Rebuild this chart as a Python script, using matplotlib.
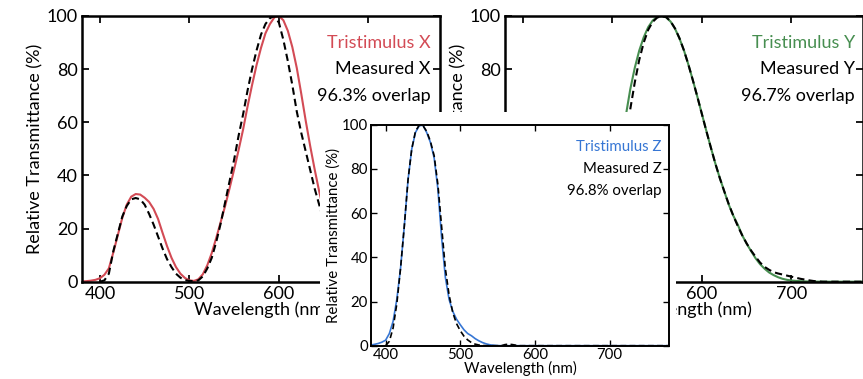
import matplotlib
matplotlib.use('Agg')
import matplotlib.pyplot as plt
from matplotlib.patches import Rectangle

plt.rcParams['font.family'] = ['Lato', 'DejaVu Sans']

nan = float('nan')

# wavelength grid (nm), 5 nm steps from 380 to 780
wl = list(range(380, 785, 5))

tri_x = [0.1, 0.2, 0.4, 0.7, 1.3, 2.6, 5.0, 11.0, 17.5, 24.0, 29.0, 32.0,
         33.0, 32.8, 31.6, 30.0, 27.4, 23.6, 18.4, 13.4, 9.0, 5.5, 3.0, 1.4,
         0.5, 0.3, 0.9, 2.8, 6.2, 10.8, 16.5, 22.5, 28.6, 35.3, 42.3, 49.6,
         57.3, 66.0, 74.0, 81.5, 88.0, 93.5, 97.0, 99.5, 100.0, 98.4, 94.4, 88.3,
         80.4, 70.7, 60.5, 51.0, 42.2, 34.0, 26.7, 20.6, 15.5, 11.4, 8.2, 6.0,
         4.4, 3.1, 2.1, 1.5, 1.1, 0.8, 0.5, 0.4, 0.3, 0.2, 0.1, 0.1,
         0.1, 0, 0, 0, 0, 0, 0, 0, 0]
meas_x = [nan, nan, nan, nan, 0, 0.5, 3.0, 11.5, 18.0, 24.5, 28.5, 31.0,
          31.5, 31.0, 29.0, 25.5, 21.5, 17.0, 12.5, 8.5, 5.5, 3.0, 1.5, 0.6,
          0.3, 0.2, 0.5, 2.0, 5.0, 9.0, 15.0, 22.0, 30.0, 38.0, 46.0, 55.0,
          63.0, 72.0, 80.0, 87.0, 93.0, 97.0, 99.2, 100.0, 97.5, 91.0, 83.0, 74.0,
          64.0, 56.0, 49.0, 42.0, 35.0, 29.0, 23.0, 18.0, 13.0, 9.0, 6.0, 4.0,
          2.5, 1.5, 0.8, 0.4, 0.2, 0.1, 0, 0, 0, 0, 0, 0,
          0, 0, 0, 0, 0, 0, 0, 0, 0]

tri_y = [0, 0, 0, 0, 0, 0.1, 0.1, 0.2, 0.4, 0.7, 1.2, 1.7,
         2.3, 3.0, 3.8, 4.8, 6.0, 7.4, 9.1, 11.3, 13.9, 16.9, 20.8, 25.9,
         32.3, 40.7, 50.5, 62.5, 72.5, 80.5, 87.0, 92.0, 95.8, 98.3, 99.6, 100.0,
         99.5, 97.9, 95.2, 91.5, 87.0, 81.6, 75.7, 69.5, 63.1, 56.7, 50.5, 44.5,
         39.0, 34.0, 29.0, 24.9, 21.5, 17.5, 14.3, 11.5, 8.8, 6.6, 4.9, 3.5,
         2.5, 1.7, 1.1, 0.7, 0.45, 0.3, 0.2, 0.12, 0.08, 0.05, 0.03, 0.02,
         0.01, 0, 0, 0, 0, 0, 0, 0, 0]
meas_y = [nan, nan, nan, nan, 0, 0.1, 0.1, 0.2, 0.3, 0.5, 0.8, 1.2,
          1.7, 2.3, 3.0, 3.8, 4.8, 6.0, 7.4, 9.1, 11.2, 13.7, 16.8, 20.8,
          26.0, 33.0, 41.5, 52.0, 65.0, 75.0, 83.5, 90.0, 94.8, 97.8, 99.4, 100.0,
          99.6, 98.0, 95.3, 91.6, 87.0, 81.6, 75.7, 69.5, 63.1, 56.7, 50.5, 44.5,
          39.0, 34.0, 29.2, 24.9, 21.0, 17.5, 14.4, 11.7, 9.4, 7.2, 5.6, 4.5,
          3.6, 3.1, 2.7, 2.3, 1.9, 1.5, 1.1, 0.8, 0.5, 0.25, 0.1, 0,
          0, 0, 0, 0, 0, 0, 0, 0, 0]

tri_z = [0.3, 0.6, 1.0, 1.6, 2.5, 5.5, 11.0, 21.0, 35.0, 54.0, 75.0, 89.0,
         96.5, 99.5, 99.8, 96.5, 92.0, 85.0, 71.0, 49.0, 31.0, 21.0, 15.5, 12.0,
         9.5, 7.2, 5.5, 4.5, 3.2, 2.2, 1.4, 0.8, 0.4, 0.2, 0.05, 0,
         0, 0, 0, 0, 0, 0, 0, 0, 0, 0, 0, 0,
         0, 0, 0, 0, 0, 0, 0, 0, 0, 0, 0, 0,
         0, 0, 0, 0, 0, 0, 0, 0, 0, 0, 0, 0,
         0, 0, 0, 0, 0, 0, 0, 0, 0]
meas_z = [nan, nan, nan, nan, 0, 2.0, 8.0, 19.0, 35.0, 54.0, 75.0, 89.0,
          97.0, 99.8, 99.6, 97.0, 92.5, 86.0, 73.0, 54.0, 35.0, 23.0, 15.0, 10.0,
          6.8, 4.3, 2.6, 1.4, 0.7, 0.3, 0.1, 0, 0, 0, 0, 0,
          0.5, 0.7, 0.5, 0.2, 0, 0, 0, 0, 0, 0, 0, 0,
          0, 0, 0, 0, 0, 0, 0, 0, 0, 0, 0, 0,
          0, 0, 0, 0, 0, 0, 0, 0, 0, 0, 0, 0,
          0, 0, 0, 0, 0, 0, 0, 0, 0]

labels_x = ['Tristimulus X', 'Measured X', '96.3% overlap']
labels_y = ['Tristimulus Y', 'Measured Y', '96.7% overlap']
labels_z = ['Tristimulus Z', 'Measured Z', '96.8% overlap']

red = '#d34b55'
green = '#478e50'
blue = '#3676d4'

W, H = 863, 379
fig = plt.figure(figsize=(W / 100, H / 100), dpi=100)


def setup(ax, fs, lw, tl):
    ax.set_xlim(380, 780)
    ax.set_ylim(0, 100)
    ax.set_xticks([400, 500, 600, 700])
    ax.set_yticks([0, 20, 40, 60, 80, 100])
    ax.tick_params(direction='in', top=True, right=True, length=tl,
                   width=lw * 0.7, labelsize=fs, pad=3)
    for s in ax.spines.values():
        s.set_linewidth(lw)
    ax.set_xlabel('Wavelength (nm)', fontsize=fs, labelpad=0)
    ax.set_ylabel('Relative Transmittance (%)', fontsize=fs, labelpad=2)


def draw(ax, tri, meas, col, labels, fs, lw, xr):
    ax.plot(wl, tri, color=col, lw=lw)
    ax.plot(wl, meas, color='black', lw=lw, dashes=(3.5, 2))
    ax.text(xr, 90, labels[0], color=col, ha='right', va='center', fontsize=fs)
    ax.text(xr, 80, labels[1], color='black', ha='right', va='center', fontsize=fs)
    ax.text(xr, 70, labels[2], color='black', ha='right', va='center', fontsize=fs)


# left panel (X)
ax_x = fig.add_axes([82 / W, 1 - 281.7 / H, 358 / W, 265.7 / H], zorder=1)
setup(ax_x, 13, 1.8, 5)
draw(ax_x, tri_x, meas_x, red, labels_x, 13, 1.5, 769)

# right panel (Y), pasted on top with white background
fig.add_artist(Rectangle((443 / W, 1 - 330 / H), 1 - 443 / W, 330 / H,
                         transform=fig.transFigure, facecolor='white',
                         edgecolor='none', zorder=2))
ax_y = fig.add_axes([505 / W, 1 - 281.7 / H, 358 / W, 265.7 / H], zorder=3)
setup(ax_y, 13, 1.8, 5)
draw(ax_y, tri_y, meas_y, green, labels_y, 13, 1.5, 771)

# inset panel (Z), pasted on top of both
fig.add_artist(Rectangle((320 / W, 0), 356 / W, (H - 112) / H,
                         transform=fig.transFigure, facecolor='white',
                         edgecolor='none', zorder=4))
ax_z = fig.add_axes([370.7 / W, 1 - 345.7 / H, 298.5 / W, 221 / H], zorder=5)
setup(ax_z, 10.8, 1.4, 4)
ax_z.tick_params(pad=2)
ax_z.xaxis.labelpad = -1
ax_z.yaxis.labelpad = 1
draw(ax_z, tri_z, meas_z, blue, labels_z, 10.8, 1.2, 770)

fig.savefig('out.png', dpi=100)
